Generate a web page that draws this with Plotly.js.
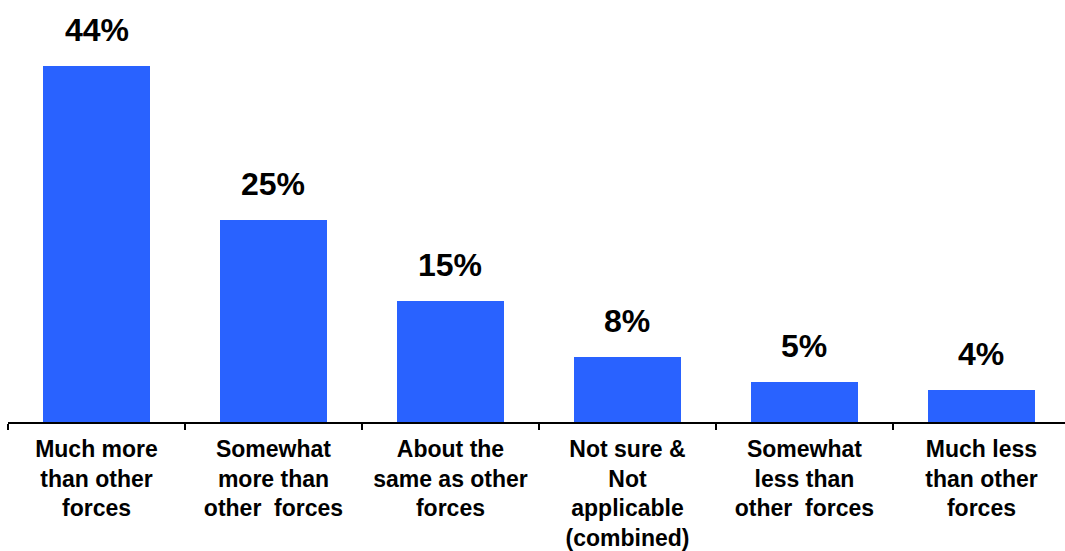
<!DOCTYPE html>
<html>
<head>
<meta charset="utf-8">
<script src="https://cdn.plot.ly/plotly-3.0.1.min.js"></script>
<style>html,body{margin:0;padding:0;background:#fff;}#chart{width:1065px;height:551px;}</style>
</head>
<body>
<div id="chart"></div>
<script>
const categories = ["Much more than other forces","Somewhat more than other forces","About the same as other forces","Not sure & Not applicable (combined)","Somewhat less than other forces","Much less than other forces"];
const values = [44, 25, 15, 8, 5, 4];
const tickLabels = ["Much more<br>than other<br>forces","Somewhat<br>more than<br>other\u00a0 forces","About the<br>same as other<br>forces","Not sure &<br>Not<br>applicable<br>(combined)","Somewhat<br>less than<br>other\u00a0 forces","Much less<br>than other<br>forces"];
const valueLabels = values.map(v => v + "%");

const trace = {
  type: "bar",
  x: categories,
  y: values,
  marker: {color: "#2962FF"},
  width: 0.605,
  hoverinfo: "none"
};

const annotations = categories.map((c, i) => ({
  x: c, y: values[i], xref: "x", yref: "y",
  text: valueLabels[i], showarrow: false,
  yanchor: "bottom", yshift: 16,
  font: {family: "Liberation Sans, Arial, sans-serif", size: 32, color: "#000", weight: "bold"}
}));

const layout = {
  width: 1065, height: 551,
  margin: {l: 8, r: 0, t: 17, b: 129},
  paper_bgcolor: "#fff", plot_bgcolor: "#fff",
  showlegend: false,
  bargap: 0,
  xaxis: {
    type: "category",
    range: [-0.5, 5.472],
    tickmode: "array",
    tickvals: categories,
    ticktext: tickLabels,
    tickson: "boundaries",
    ticks: "outside", ticklen: 6, tickwidth: 2, tickcolor: "#000",
    ticklabelstandoff: 5,
    showline: true, linecolor: "#000", linewidth: 2,
    showgrid: false, zeroline: false,
    tickangle: 0,
    tickfont: {family: "Liberation Sans, Arial, sans-serif", size: 23, color: "#000", weight: "bold"}
  },
  yaxis: {
    range: [0, 50],
    visible: false,
    showgrid: false, zeroline: false
  },
  annotations: annotations
};

Plotly.newPlot("chart", [trace], layout, {staticPlot: true, displayModeBar: false});
</script>
</body>
</html>
